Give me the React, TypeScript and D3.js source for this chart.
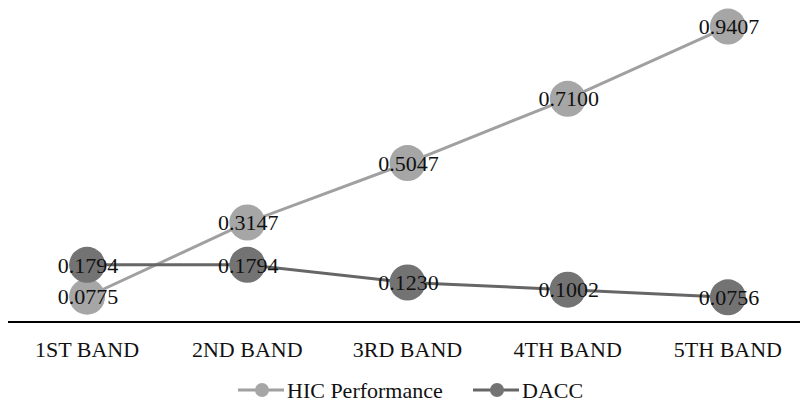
import React, { useEffect, useRef } from "react";
import * as d3 from "d3";

const bands = ["1ST BAND", "2ND BAND", "3RD BAND", "4TH BAND", "5TH BAND"];
const hicPerformance = [0.0775, 0.3147, 0.5047, 0.71, 0.9407];
const dacc = [0.1794, 0.1794, 0.123, 0.1002, 0.0756];

const series = [
  { name: "HIC Performance", values: hicPerformance, fill: "#a6a6a6", stroke: "#a0a0a0" },
  { name: "DACC", values: dacc, fill: "#737373", stroke: "#666666" },
];

const width = 800;
const height = 404;
const font = "Liberation Serif";

export default function App() {
  const ref = useRef<SVGSVGElement>(null);

  useEffect(() => {
    const svg = d3.select(ref.current);
    svg.selectAll("*").remove();

    const x = d3.scaleBand<string>().domain(bands).range([7, 808]); // 5 equal bands
    const y = d3.scaleLinear().domain([0, 1]).range([321, 8]); // zero sits on the axis line
    const cx = (i: number) => (x(bands[i]) as number) + x.bandwidth() / 2;

    svg.append("rect").attr("width", width).attr("height", height).attr("fill", "#fff");

    // baseline
    svg
      .append("line")
      .attr("x1", 8)
      .attr("x2", width)
      .attr("y1", y(0) + 1)
      .attr("y2", y(0) + 1)
      .attr("stroke", "#000")
      .attr("stroke-width", 2.2);

    // category labels
    svg
      .append("g")
      .selectAll("text")
      .data(bands)
      .join("text")
      .attr("x", (_, i) => cx(i))
      .attr("y", 357)
      .attr("text-anchor", "middle")
      .attr("font-family", font)
      .attr("font-size", 22)
      .attr("fill", "#111")
      .text((d) => d);

    const line = d3
      .line<number>()
      .x((_, i) => cx(i))
      .y((d) => y(d));

    series.forEach((s) => {
      const g = svg.append("g");
      g.append("path")
        .attr("d", line(s.values))
        .attr("fill", "none")
        .attr("stroke", s.stroke)
        .attr("stroke-width", 3);
      g.selectAll("circle")
        .data(s.values)
        .join("circle")
        .attr("cx", (_, i) => cx(i))
        .attr("cy", (d) => y(d))
        .attr("r", 18)
        .attr("fill", s.fill);
    });

    // value labels on top of everything
    series.forEach((s) => {
      svg
        .append("g")
        .selectAll("text")
        .data(s.values)
        .join("text")
        .attr("x", (_, i) => cx(i) + 1)
        .attr("y", (d) => y(d))
        .attr("dy", "0.35em")
        .attr("text-anchor", "middle")
        .attr("font-family", font)
        .attr("font-size", 22)
        .attr("fill", "#111")
        .text((d) => d.toFixed(4));
    });

    // legend
    const legendX = [238, 473];
    const legend = svg
      .append("g")
      .selectAll("g")
      .data(series)
      .join("g")
      .attr("transform", (_, i) => `translate(${legendX[i]}, 390)`);
    legend
      .append("line")
      .attr("x1", 0)
      .attr("x2", 46)
      .attr("stroke", (d) => d.stroke)
      .attr("stroke-width", 3);
    legend
      .append("circle")
      .attr("cx", 24)
      .attr("r", 7)
      .attr("fill", (d) => d.fill);
    legend
      .append("text")
      .attr("x", 49)
      .attr("dy", "0.35em")
      .attr("font-family", font)
      .attr("font-size", 22)
      .attr("fill", "#111")
      .text((d) => d.name);
  }, []);

  return (
    <svg
      ref={ref}
      width={width}
      height={height}
      style={{ position: "absolute", left: 0, top: 0, display: "block" }}
    />
  );
}
